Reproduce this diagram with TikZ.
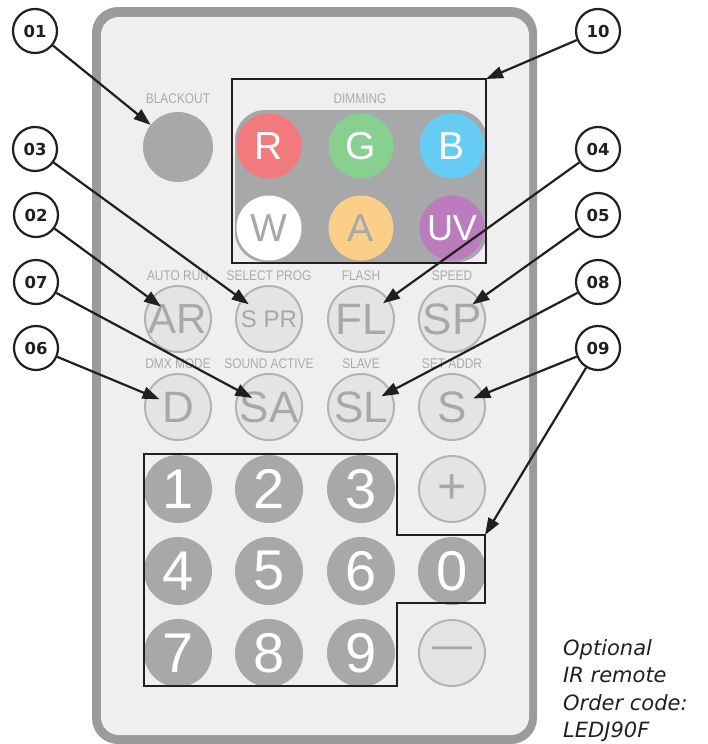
\documentclass[tikz,border=0pt]{standalone}
\usepackage{fontspec}
\usepackage{graphicx}
\setmainfont{Liberation Sans}
\newfontfamily\calfont{DejaVu Sans}
\usetikzlibrary{arrows.meta,calc}
\definecolor{rimgray}{HTML}{9A9B9D}
\definecolor{bodygray}{HTML}{EFEFEF}
\definecolor{keygray}{HTML}{A7A8AA}
\definecolor{lightkey}{HTML}{E4E4E5}
\definecolor{keyline}{HTML}{B3B3B4}
\definecolor{labgray}{HTML}{A9AAAC}
\definecolor{ink}{HTML}{231F20}
\definecolor{cR}{HTML}{F27A7C}
\definecolor{cG}{HTML}{88D090}
\definecolor{cB}{HTML}{66CCF3}
\definecolor{cA}{HTML}{FCCF88}
\definecolor{cUV}{HTML}{BB7CBD}
\newcommand{\cond}[1]{\scalebox{0.85}[1]{#1}}
\begin{document}
\begin{tikzpicture}[x=1pt,y=-1pt,
  callout/.style={circle, draw=ink, line width=2.2pt, fill=white, minimum size=44pt, inner sep=0pt, font={\calfont\bfseries\fontsize{16.5}{16.5}\selectfont}, text=ink},
  arr/.style={draw=ink, line width=2.2pt, -{Triangle[length=17pt,width=12pt]}},
  lab/.style={text=labgray, inner sep=0pt, font={\fontsize{14}{14}\selectfont}},
  colkey/.style={circle, minimum size=65pt, inner sep=0pt, font={\fontsize{39}{39}\selectfont}},
  lkey/.style={circle, fill=lightkey, draw=keyline, line width=2pt, minimum size=66pt, inner sep=0pt, text=keygray, font={\fontsize{44}{44}\selectfont}},
  dkey/.style={circle, fill=keygray, minimum size=68pt, inner sep=0pt, text=white, font={\fontsize{56}{56}\selectfont}}
]
\useasboundingbox (0,0) rectangle (707,744);
% remote body
\fill[rimgray, rounded corners=26pt] (92,7) rectangle (537,744);
\fill[bodygray, rounded corners=18pt] (101,17) rectangle (529,735);
% blackout
\node[circle, fill=keygray, minimum size=70pt, inner sep=0pt] (bo) at (178,147) {};
\node[lab] (bol) at (178,99) {\cond{BLACKOUT}};
% dimming
\node[lab] (diml) at (360,99) {\cond{DIMMING}};
\fill[keygray, rounded corners=30pt] (235,110) rectangle (487,262);
\node[colkey, fill=cR, text=white] (kR) at (269,146) {R};
\node[colkey, fill=cG, text=white] (kG) at (361,146) {G};
\node[colkey, fill=cB, text=white] (kB) at (452,146) {B};
\node[colkey, fill=white, text=keygray] (kW) at (269,228) {W};
\node[colkey, fill=cA, text=keygray] (kA) at (361,228) {A};
\node[colkey, fill=cUV, text=white, font={\fontsize{36}{36}\selectfont}] (kUV) at (452,228) {UV};
\node[draw=ink, line width=2pt, minimum width=254pt, minimum height=184pt, outer sep=0pt, inner sep=0pt] (dimbox) at (359,171) {};
% function keys row 1
\node[lab] (l1) at (178,276) {\cond{AUTO RUN}};
\node[lab] (l2) at (269,276) {\cond{SELECT PROG}};
\node[lab] (l3) at (361,276) {\cond{FLASH}};
\node[lab] (l4) at (452,276) {\cond{SPEED}};
\node[lkey, font={\fontsize{42}{42}\selectfont}] (ar) at (178,319) {AR};
\node[lkey, font={\fontsize{24}{24}\selectfont}] (spr) at (269,319) {S PR};
\node[lkey] (fl) at (361,319) {FL};
\node[lkey] (sp) at (452,319) {SP};
% row 2
\node[lab] (l5) at (178,364) {\cond{DMX MODE}};
\node[lab] (l6) at (269,364) {\cond{SOUND ACTIVE}};
\node[lab] (l7) at (361,364) {\cond{SLAVE}};
\node[lab] (l8) at (452,364) {\cond{SET ADDR}};
\node[lkey] (d) at (178,407) {D};
\node[lkey] (sa) at (269,407) {SA};
\node[lkey] (sl) at (361,407) {SL};
\node[lkey] (s) at (452,407) {S};
% number keys
\node[dkey] (n1) at (178,489) {1};
\node[dkey] (n2) at (269,489) {2};
\node[dkey] (n3) at (361,489) {3};
\node[lkey, font={\fontsize{50}{50}\selectfont}] (plus) at (452,489) {+};
\node[dkey] (n4) at (178,571) {4};
\node[dkey] (n5) at (269,571) {5};
\node[dkey] (n6) at (361,571) {6};
\node[dkey] (n0) at (452,571) {0};
\node[dkey] (n7) at (178,653) {7};
\node[dkey] (n8) at (269,653) {8};
\node[dkey] (n9) at (361,653) {9};
\node[lkey, font={\fontsize{40}{40}\selectfont}] (minus) at (452,653) {—};
\draw[ink, line width=2pt] (144,454) -- (397,454) -- (397,535) -- (485,535) -- (485,603) -- (397,603) -- (397,686) -- (144,686) -- cycle;
\coordinate (numcorner) at (485,535);
% callouts
\node[callout] (c01) at (35,31) {01};
\node[callout] (c03) at (35,149) {03};
\node[callout] (c02) at (36,215) {02};
\node[callout] (c07) at (36,282) {07};
\node[callout] (c06) at (36,348) {06};
\node[callout] (c10) at (598,31) {10};
\node[callout] (c04) at (598,149) {04};
\node[callout] (c05) at (598,215) {05};
\node[callout] (c08) at (598,282) {08};
\node[callout] (c09) at (598,348) {09};
\draw[arr] (c01) -- (bo);
\draw[arr, shorten >=21pt] (c02) -- (ar.center);
\draw[arr, shorten >=25pt] (c03) -- (spr.center);
\draw[arr, shorten >=27pt] (c04) -- (fl.center);
\draw[arr, shorten >=25pt] (c05) -- (sp.center);
\draw[arr, shorten >=20pt] (c06) -- (d.center);
\draw[arr, shorten >=19pt] (c07) -- (sa.center);
\draw[arr, shorten >=23pt] (c08) -- (sl.center);
\draw[arr, shorten >=23pt] (c09) -- (s.center);
\draw[arr] (c09) -- (numcorner);
\draw[arr] (c10) -- (dimbox.north east);
% note
\node[anchor=north west, align=left, inner sep=0pt, text=ink, font={\calfont\itshape\fontsize{21}{27.5}\selectfont}] (note) at (563,639) {Optional\\IR remote\\Order code:\\LEDJ90F};
\end{tikzpicture}
\end{document}
